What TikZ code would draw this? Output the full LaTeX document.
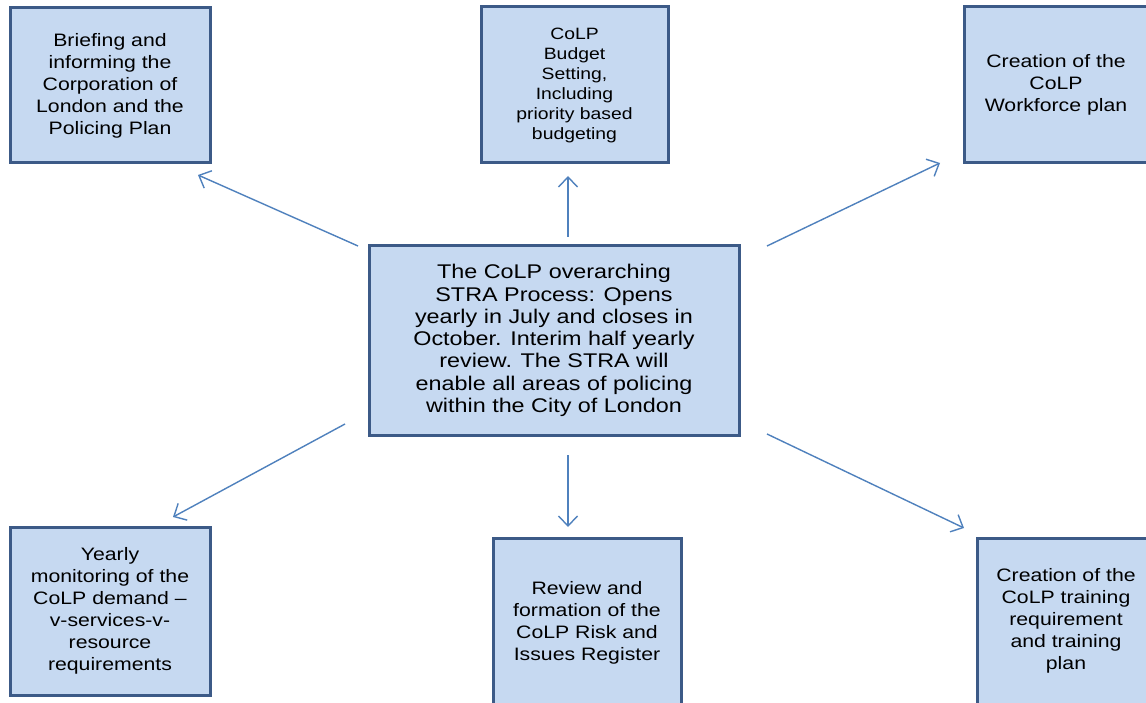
\documentclass[tikz,border=0pt]{standalone}
\usepackage{fontspec}
\setmainfont{Liberation Sans}[FakeStretch=1.18]
\usetikzlibrary{arrows.meta}
\definecolor{boxfill}{RGB}{198,217,241}
\definecolor{boxline}{RGB}{60,90,135}
\definecolor{arrline}{RGB}{79,129,189}
\begin{document}
\begin{tikzpicture}[x=1pt,y=-1pt,
  box/.style={draw=boxline, line width=3pt, fill=boxfill, align=center, inner sep=0pt, text=black,
              font=\fontsize{18}{22}\selectfont},
  conn/.style={draw=arrline, line width=1.4pt,
               -{Straight Barb[length=10pt,width=19pt,line width=1.4pt]}}]
\clip (0,0) rectangle (1146,703);
\fill[white] (0,0) rectangle (1146,703);
% boxes
\node[box, minimum width=200pt, minimum height=155pt] (tl) at (110,85.5)
  {Briefing and\\informing the\\Corporation of\\London and the\\Policing Plan};
\node[box, minimum width=187pt, minimum height=156pt, font=\fontsize{16.4}{20}\selectfont] (tm) at (574.5,85)
  {CoLP\\Budget\\Setting,\\Including\\priority based\\budgeting};
\node[box, minimum width=184pt, minimum height=156pt] (tr) at (1056,85)
  {Creation of the\\CoLP\\Workforce plan};
\node[box, minimum width=370pt, minimum height=189pt, font=\fontsize{19.8}{22.3}\selectfont] (c) at (554,340.5)
  {The CoLP overarching\\STRA Process: Opens\\yearly in July and closes in\\October. Interim half yearly\\review. The STRA will\\enable all areas of policing\\within the City of London};
\node[box, minimum width=200pt, minimum height=168pt] (bl) at (110,611)
  {Yearly\\monitoring of the\\CoLP demand --\\v-services-v-\\resource\\requirements};
\node[box, minimum width=188pt, minimum height=170pt] (bm) at (587,623)
  {Review and\\formation of the\\CoLP Risk and\\Issues Register};
\node[box, minimum width=178pt, minimum height=166pt] (br) at (1066,621)
  {Creation of the\\CoLP training\\requirement\\and training\\plan};
% connector end points
\coordinate (s1) at (358,246);   \coordinate (e1) at (198,175);
\coordinate (s2) at (568,237);   \coordinate (e2) at (568,176);
\coordinate (s3) at (767,246);   \coordinate (e3) at (940,163);
\coordinate (s4) at (345,424);   \coordinate (e4) at (173,517);
\coordinate (s5) at (568,455);   \coordinate (e5) at (568,527);
\coordinate (s6) at (767,434);   \coordinate (e6) at (964,528);
\draw[conn] (s1) -- (e1);
\draw[conn] (s2) -- (e2);
\draw[conn] (s3) -- (e3);
\draw[conn] (s4) -- (e4);
\draw[conn] (s5) -- (e5);
\draw[conn] (s6) -- (e6);
\end{tikzpicture}
\end{document}
